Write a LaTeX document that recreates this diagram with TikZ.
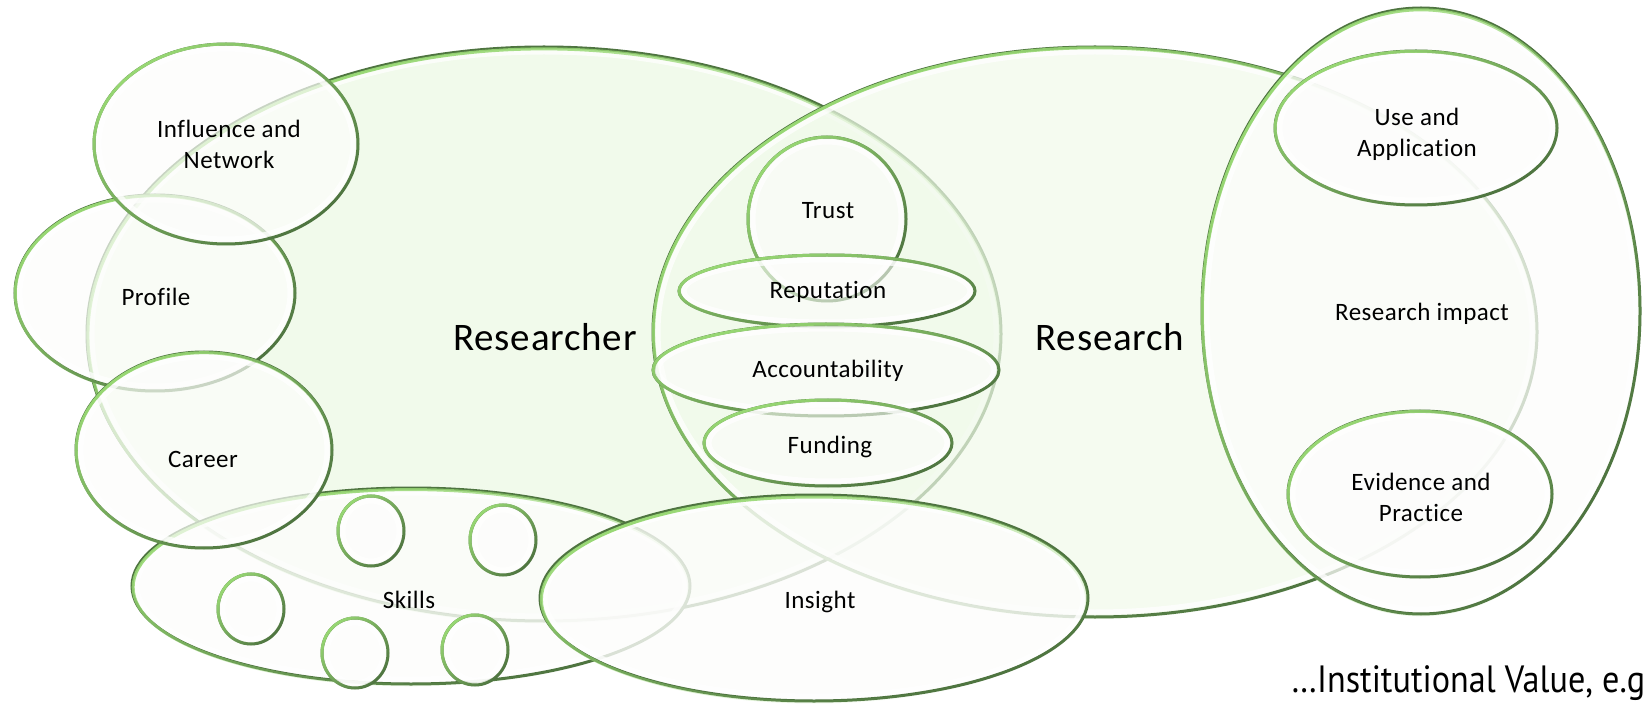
\documentclass[tikz,border=0pt]{standalone}
\usepackage{fontspec}
\setmainfont{Carlito}[Ligatures={NoCommon,NoRequired}, LetterSpace=2]
\newfontfamily\instfont[FakeStretch=0.9]{PT Sans}
\usetikzlibrary{shapes.geometric,fadings}
\definecolor{edgelight}{HTML}{98D874}
\definecolor{edgedark}{HTML}{4E7440}
\definecolor{bigfill}{HTML}{F1FAEB}
\definecolor{glassfill}{HTML}{FDFDFC}
\tikzfading[name=nwfade, top color=transparent!0, bottom color=transparent!100]
\tikzset{
  glassnode/.style={ellipse, inner sep=0pt, outer sep=0pt, draw=edgedark, line width=3pt},
  lab/.style={font=\fontsize{25}{31}\selectfont, align=center, inner sep=0pt},
  biglab/.style={font=\fontsize{39}{47}\selectfont, inner sep=0pt},
}
% name, cx, cy, rx, ry, fill colour, fill opacity
\newcommand\glassell[7]{%
  \node[glassnode, minimum width=2*#4pt, minimum height=2*#5pt, fill=#6, fill opacity=#7] (#1) at (#2,#3) {};
  \draw[white, line width=5pt, opacity=.75] (#1.center) ellipse [x radius=#4pt-5pt, y radius=#5pt-5pt];
  \draw[edgelight, line width=3pt, path fading=nwfade, fading angle=45] (#1.center) ellipse [x radius=#4pt, y radius=#5pt];
}
\begin{document}
\begin{tikzpicture}[x=1pt, y=-1pt]
\clip (0,0) rectangle (1652,708);
\fill[white] (0,0) rectangle (1652,708);
% big ellipses
\glassell{researcher}{544}{334}{457}{287}{bigfill}{1}
\glassell{research}{1095}{332}{442}{285}{bigfill}{0.7}
\glassell{impact}{1421}{311}{219}{303}{glassfill}{0.75}
\glassell{use}{1416}{128}{141}{77}{glassfill}{0.8}
\glassell{evidence}{1420}{494}{132}{83}{glassfill}{0.8}
% centre stack
\glassell{trust}{827}{219}{79}{82}{glassfill}{0.6}
\glassell{reputation}{827}{291}{148}{36}{glassfill}{0.6}
\glassell{accountability}{826}{370}{173}{46}{glassfill}{0.6}
\glassell{funding}{828}{443}{124}{43}{glassfill}{0.6}
% left group
\glassell{profile}{155}{293}{140}{98}{glassfill}{0.7}
\glassell{influence}{226}{144}{132}{100}{glassfill}{0.7}
\glassell{skills}{411}{586}{279}{98}{glassfill}{0.8}
\glassell{sa}{371}{531}{33}{35}{glassfill}{0.8}
\glassell{sb}{503}{540}{33}{35}{glassfill}{0.8}
\glassell{sc}{251}{609}{33}{35}{glassfill}{0.8}
\glassell{sd}{355}{653}{33}{35}{glassfill}{0.8}
\glassell{se}{475}{650}{33}{35}{glassfill}{0.8}
\glassell{career}{204}{450}{128}{98}{glassfill}{0.7}
\glassell{insight}{814}{598}{274}{103}{glassfill}{0.8}
% labels
\node[biglab] (t-researcher) at (545,337) {Researcher};
\node[biglab] (t-research) at (1110,337) {Research};
\node[lab] (t-influence) at (229,144) {Influence and\\Network};
\node[lab] (t-profile) at (156,297) {Profile};
\node[lab] (t-career) at (203,459) {Career};
\node[lab] (t-skills) at (409,600) {Skills};
\node[lab] (t-insight) at (820,602) {Insight};
\node[lab] (t-trust) at (828,211) {Trust};
\node[lab] (t-reputation) at (828,292) {Reputation};
\node[lab] (t-accountability) at (828,371) {Accountability};
\node[lab] (t-funding) at (830,447) {Funding};
\node[lab] (t-use) at (1417,134) {Use and\\Application};
\node[lab] (t-impact) at (1422,314) {Research impact};
\node[lab] (t-evidence) at (1421,497) {Evidence and\\Practice};
\node[anchor=base west, inner sep=0pt, font=\instfont\fontsize{38}{42}\selectfont] (t-inst) at (1291,692) {…Institutional Value, e.g};
\end{tikzpicture}
\end{document}
